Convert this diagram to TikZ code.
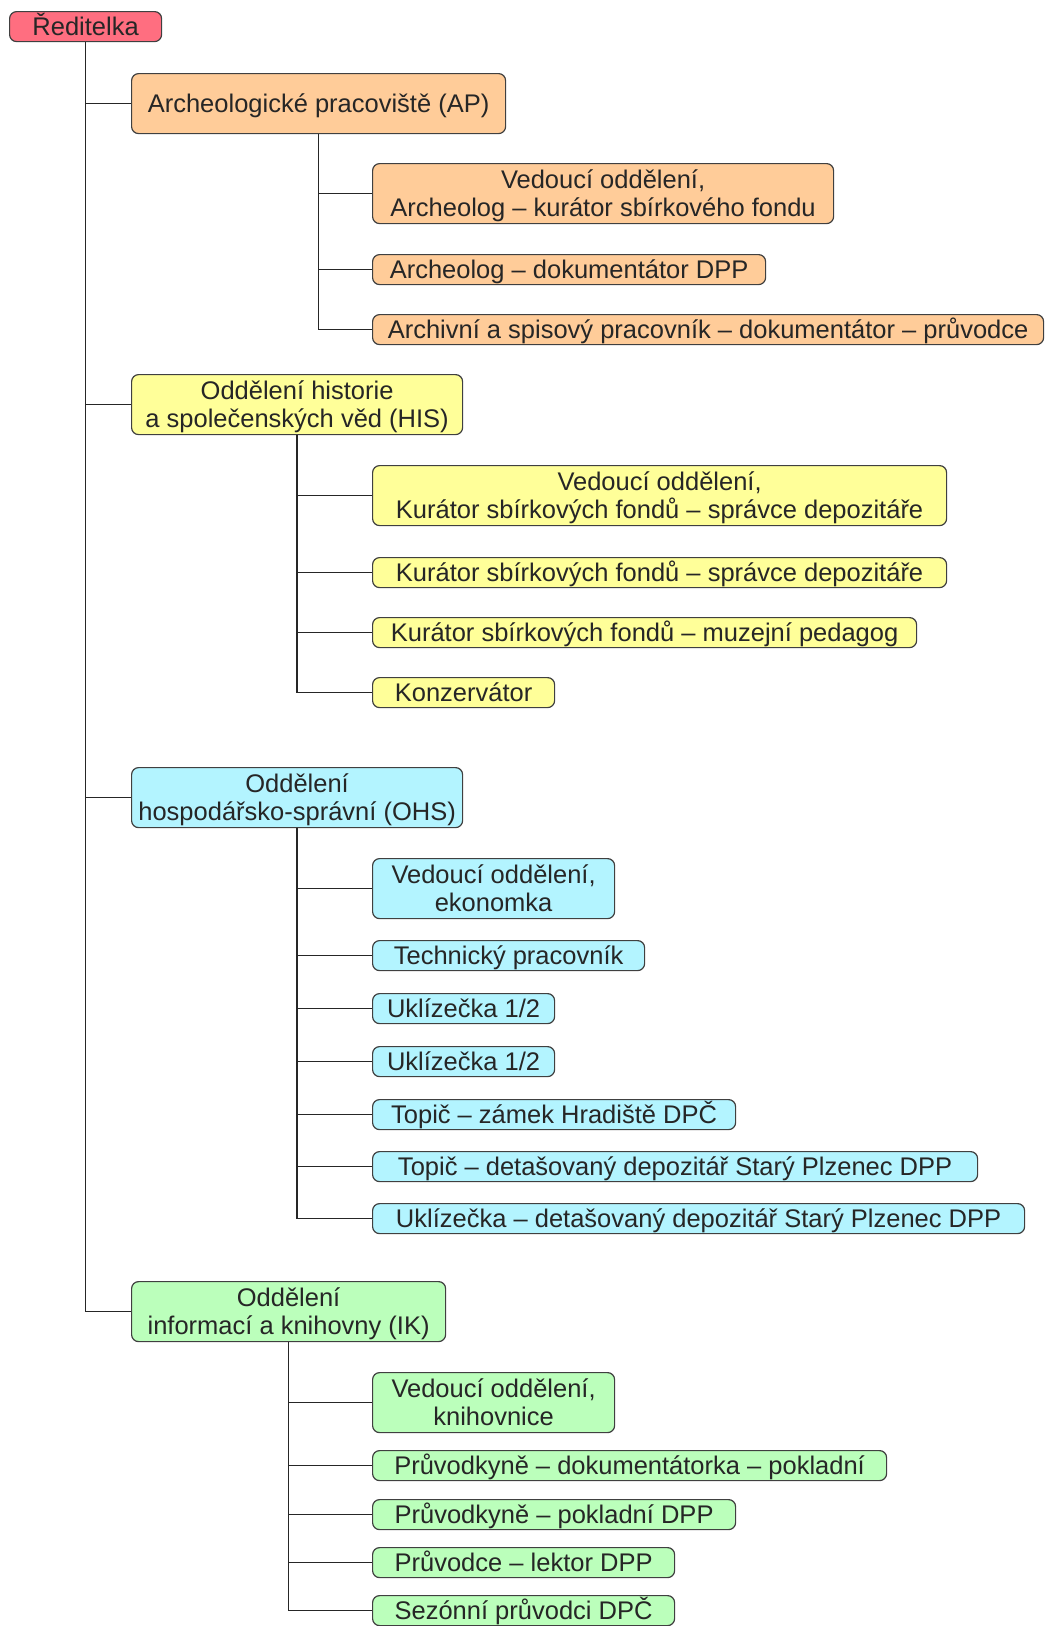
\documentclass[tikz,border=0pt]{standalone}
\usepackage{fontspec}
\setmainfont{Liberation Sans}
\definecolor{redF}{HTML}{FF6E80}
\definecolor{orF}{HTML}{FFCC99}
\definecolor{yeF}{HTML}{FFFF99}
\definecolor{cyF}{HTML}{B3F4FF}
\definecolor{grF}{HTML}{BBFFBB}
\definecolor{bord}{HTML}{404040}
\definecolor{txt}{HTML}{262626}
\newcommand\boxfont{\fontsize{25.5}{28}\selectfont}
\tikzset{
  orgbox/.style={draw=bord, line width=1.2pt, rounded corners=7pt, anchor=north west,
    inner sep=0pt, align=center, font=\boxfont, text=txt},
  oneline/.style={orgbox, text height=21pt, text depth=3.5pt},
  twoline/.style={orgbox, text height=49.5pt, text depth=3.4pt},
  conn/.style={draw=black!85, line width=1.3pt}
}
\begin{document}
\begin{tikzpicture}[x=1pt,y=-1pt]
\useasboundingbox (0,0) rectangle (1045,1626);
% root
\node[oneline, fill=redF, minimum width=152pt, minimum height=30pt] (red) at (9,11) {Ředitelka};
% AP
\node[oneline, fill=orF, minimum width=374pt, minimum height=60pt] (ap) at (131,73) {Archeologické pracoviště (AP)};
\node[twoline, fill=orF, minimum width=461pt, minimum height=60pt] (apv) at (372,163) {Vedoucí oddělení,\\Archeolog – kurátor sbírkového fondu};
\node[oneline, fill=orF, minimum width=393pt, minimum height=30pt] (apd) at (372,254) {Archeolog – dokumentátor DPP};
\node[oneline, fill=orF, minimum width=671pt, minimum height=30pt] (apa) at (372,314) {Archivní a spisový pracovník – dokumentátor – průvodce};
% HIS
\node[twoline, fill=yeF, minimum width=331pt, minimum height=60pt] (his) at (131,374) {Oddělení historie\\a společenských věd (HIS)};
\node[twoline, fill=yeF, minimum width=574pt, minimum height=60pt] (hisv) at (372,465) {Vedoucí oddělení,\\Kurátor sbírkových fondů – správce depozitáře};
\node[oneline, fill=yeF, minimum width=574pt, minimum height=30pt] (hisa) at (372,557) {Kurátor sbírkových fondů – správce depozitáře};
\node[oneline, fill=yeF, minimum width=544pt, minimum height=30pt] (hisb) at (372,617) {Kurátor sbírkových fondů – muzejní pedagog};
\node[oneline, fill=yeF, minimum width=182pt, minimum height=30pt] (hisc) at (372,677) {Konzervátor};
% OHS
\node[twoline, fill=cyF, minimum width=331pt, minimum height=60pt] (ohs) at (131,767) {Oddělení\\hospodářsko-správní (OHS)};
\node[twoline, fill=cyF, minimum width=242pt, minimum height=60pt] (ohsv) at (372,858) {Vedoucí oddělení,\\ekonomka};
\node[oneline, fill=cyF, minimum width=272pt, minimum height=30pt] (ohsa) at (372,940) {Technický pracovník};
\node[oneline, fill=cyF, minimum width=182pt, minimum height=30pt] (ohsb) at (372,993) {Uklízečka 1/2};
\node[oneline, fill=cyF, minimum width=182pt, minimum height=30pt] (ohsc) at (372,1046) {Uklízečka 1/2};
\node[oneline, fill=cyF, minimum width=363pt, minimum height=30pt] (ohsd) at (372,1099) {Topič – zámek Hradiště DPČ};
\node[oneline, fill=cyF, minimum width=605pt, minimum height=30pt] (ohse) at (372,1151) {Topič – detašovaný depozitář Starý Plzenec DPP};
\node[oneline, fill=cyF, minimum width=652pt, minimum height=30pt] (ohsf) at (372,1203) {Uklízečka – detašovaný depozitář Starý Plzenec DPP};
% IK
\node[twoline, fill=grF, minimum width=314pt, minimum height=60pt] (ik) at (131,1281) {Oddělení\\informací a knihovny (IK)};
\node[twoline, fill=grF, minimum width=242pt, minimum height=60pt] (ikv) at (372,1372) {Vedoucí oddělení,\\knihovnice};
\node[oneline, fill=grF, minimum width=514pt, minimum height=30pt] (ika) at (372,1450) {Průvodkyně – dokumentátorka – pokladní};
\node[oneline, fill=grF, minimum width=363pt, minimum height=30pt] (ikb) at (372,1499) {Průvodkyně – pokladní DPP};
\node[oneline, fill=grF, minimum width=302pt, minimum height=30pt] (ikc) at (372,1547) {Průvodce – lektor DPP};
\node[oneline, fill=grF, minimum width=302pt, minimum height=30pt] (ikd) at (372,1595) {Sezónní průvodci DPČ};
% connectors
\foreach \c in {ap,his,ohs,ik} \draw[conn] (red.south) |- (\c.west);
\foreach \c in {apv,apd,apa} \draw[conn] (ap.south) |- (\c.west);
\foreach \c in {hisv,hisa,hisb,hisc} \draw[conn] (his.south) |- (\c.west);
\foreach \c in {ohsv,ohsa,ohsb,ohsc,ohsd,ohse,ohsf} \draw[conn] (ohs.south) |- (\c.west);
\foreach \c in {ikv,ika,ikb,ikc,ikd} \draw[conn] (ik.south) |- (\c.west);
\end{tikzpicture}
\end{document}
